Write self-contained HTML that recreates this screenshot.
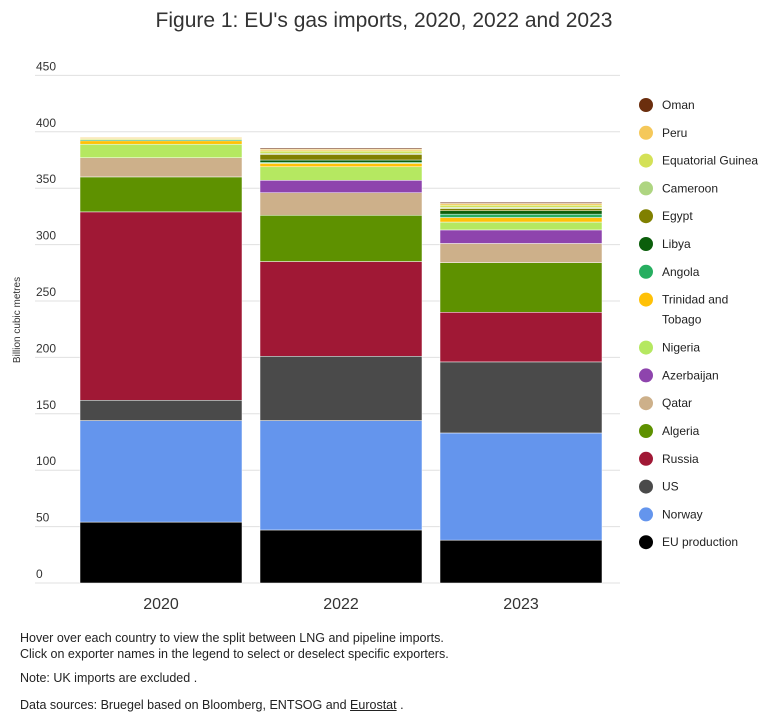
<!DOCTYPE html>
<html><head><meta charset="utf-8"><style>
body{margin:0;width:768px;height:722px;background:#fff;font-family:"Liberation Sans",sans-serif;color:#222;overflow:hidden;position:relative}
.t{position:absolute;white-space:nowrap}
</style></head><body>
<div class="t" style="left:0;width:768px;text-align:center;top:9px;font-size:21px;color:#333">Figure 1: EU's gas imports, 2020, 2022 and 2023</div>
<svg id="c" width="768" height="625" style="position:absolute;left:0;top:0"></svg>
<div class="t" style="left:20px;top:630px;font-size:12.5px;line-height:16px">Hover over each country to view the split between LNG and pipeline imports.<br>Click on exporter names in the legend to select or deselect specific exporters.</div>
<div class="t" style="left:20px;top:671px;font-size:12.5px">Note: UK imports are excluded .</div>
<div class="t" style="left:20px;top:698px;font-size:12.5px">Data sources: Bruegel based on Bloomberg, ENTSOG and <span style="text-decoration:underline">Eurostat</span> .</div>
<script>
const years=["2020","2022","2023"];
const series=["EU production","Norway","US","Russia","Algeria","Qatar","Azerbaijan","Nigeria","Trinidad and Tobago","Angola","Libya","Egypt","Cameroon","Equatorial Guinea","Peru","Oman"];
const colors=["#000000","#6495ed","#4a4a4a","#a01835","#5e9100","#cdb08a","#8e44ad","#b5e861","#ffc107","#27ae60","#0b5e0b","#808000","#aed581","#d4e157","#f5c85a","#6b2e0e"];
const v2020=[54,90,18,167,31,17,0,12,3,1,0,0,0,1,1,0];
const v2022=[47,97,57,84,41,20,11,12,3,1,2,5,1,2,1.5,1];
const v2023=[38,95,63,44,44,17,12,7,4,3,3,2,1,2,1.5,1];
const values=[v2020,v2022,v2023];
const ticks=[0,50,100,150,200,250,300,350,400,450];
const NS="http://www.w3.org/2000/svg";
const svg=document.getElementById('c');
const y=v=>583-v*1.128;
const x0=80,bw=162,step=180;
function mk(tag,a){const e=document.createElementNS(NS,tag);for(const k in a)e.setAttribute(k,a[k]);svg.appendChild(e);return e;}
ticks.forEach(t=>{
 const l=mk('line',{x1:35,x2:620,y1:y(t),y2:y(t),stroke:'#e0e0e0','stroke-width':1});
 
 
 const tx=mk('text',{x:36,y:y(t)-5,'font-size':12,fill:'#333','font-family':'Liberation Sans'});
 tx.textContent=t;
 
 
});
const yt=mk('text',{x:0,y:0,'font-size':10,fill:'#333','text-anchor':'middle',transform:'translate(20,320) rotate(-90)','font-family':'Liberation Sans'});
yt.textContent='Billion cubic metres';


years.forEach((yr,i)=>{
 let cum=0;const bx=x0+i*step;
 values[i].forEach((v,j)=>{
  if(v<=0)return;
  const r=mk('rect',{x:bx,y:y(cum+v),width:bw,height:v*1.128,fill:colors[j],stroke:'#fff','stroke-width':0.5});
  
  
  cum+=v;
 });
 const t=mk('text',{x:bx+bw/2,y:609,'font-size':16,fill:'#333','text-anchor':'middle','font-family':'Liberation Sans'});
 t.textContent=yr;
 
 
});
let ly=105;
for(let j=series.length-1;j>=0;j--){
 const g=mk('g',{});
 
 
 const c=document.createElementNS(NS,'circle');c.setAttribute('cx',646);c.setAttribute('cy',ly);c.setAttribute('r',7);c.setAttribute('fill',colors[j]);g.appendChild(c);
 const name=series[j];
 if(name==="Trinidad and Tobago"){
  ["Trinidad and","Tobago"].forEach((s,k)=>{const t=document.createElementNS(NS,'text');t.setAttribute('x',662);t.setAttribute('y',ly+4+k*20);t.setAttribute('font-size',12);t.setAttribute('fill','#222');t.textContent=s;g.appendChild(t);});
  ly+=48;
 } else {
  const t=document.createElementNS(NS,'text');t.setAttribute('x',662);t.setAttribute('y',ly+4);t.setAttribute('font-size',12);t.setAttribute('fill','#222');t.textContent=name;g.appendChild(t);
  ly+=27.8;
 }
}
</script>
</body></html>
